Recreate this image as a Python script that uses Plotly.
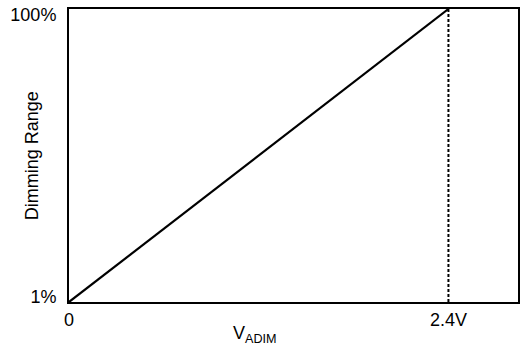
import plotly.graph_objects as go

# --- data ---
v_adim = [0, 2.4]
dimming = [1, 100]
x_max = 2.84
x_ticks = [0, 2.4]
x_ticktext = ["0", "2.4V"]
y_ticks = [2.8, 98.2]
y_ticktext = ["1%", "100%"]

FONT = dict(family="Liberation Sans, Arial, sans-serif", size=18, color="#000")

fig = go.Figure()

# dimming ramp
fig.add_trace(go.Scatter(x=v_adim, y=dimming, mode="lines",
                         line=dict(color="black", width=2.2), hoverinfo="skip"))

# dashed marker at full scale
fig.add_trace(go.Scatter(x=[v_adim[1], v_adim[1]], y=[dimming[0], dimming[1]], mode="lines",
                         line=dict(color="black", width=2, dash="3px,2px"), hoverinfo="skip"))

fig.update_layout(
    width=521, height=347,
    margin=dict(l=69, r=3, t=9, b=45, autoexpand=False),
    paper_bgcolor="white", plot_bgcolor="white",
    showlegend=False,
    font=FONT,
)
fig.update_xaxes(range=[0, x_max], tickvals=x_ticks, ticktext=x_ticktext,
                 showgrid=False, zeroline=False, showline=True, mirror=True,
                 linecolor="black", linewidth=2, ticks="", automargin=False)
fig.update_yaxes(range=[1, 100], tickvals=y_ticks, ticktext=y_ticktext,
                 showgrid=False, zeroline=False, showline=True, mirror=True,
                 linecolor="black", linewidth=2, ticks="outside", ticklen=7,
                 tickcolor="rgba(0,0,0,0)", automargin=False)

# axis titles
fig.add_annotation(text="V<sub>ADIM</sub>", xref="paper", yref="paper",
                   x=0.414, y=-0.11, xanchor="center", yanchor="middle",
                   showarrow=False, font=FONT)
fig.add_annotation(text="Dimming Range", xref="paper", yref="paper",
                   x=-0.082, y=0.498, xanchor="center", yanchor="middle",
                   textangle=-90, showarrow=False, font=FONT)

# drop the page's default body margin so the figure sits at the window's corner
fig.write_html("out.html", config={"displayModeBar": False},
               post_script="document.body.style.margin='0';")
